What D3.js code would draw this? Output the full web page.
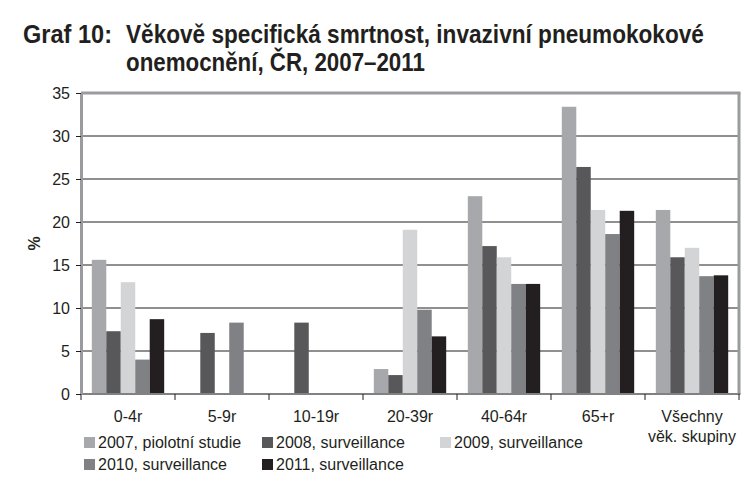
<!DOCTYPE html>
<html>
<head>
<meta charset="utf-8">
<script src="https://cdn.jsdelivr.net/npm/d3@7"></script>
<style>
  body { margin: 0; background: #fff; }
  text { font-family: "Liberation Sans", Arial, sans-serif; fill: #231f20; }
  .title { font-family: "Liberation Sans Narrow", "Liberation Sans", Arial, sans-serif; font-weight: bold; font-size: 26px; }
</style>
</head>
<body>
<div id="chart"></div>
<script>
// data
var categories = ["0-4r", "5-9r", "10-19r", "20-39r", "40-64r", "65+r", "Všechny"];
var categoryLabels = [["0-4r"], ["5-9r"], ["10-19r"], ["20-39r"], ["40-64r"], ["65+r"], ["Všechny", "věk. skupiny"]];
var seriesNames = ["2007, piolotní studie", "2008, surveillance", "2009, surveillance", "2010, surveillance", "2011, surveillance"];
var seriesColors = ["#a7a8ab", "#58585a", "#d3d4d5", "#808184", "#231f20"];
var values2007 = [15.6, 0, 0, 2.9, 23.0, 33.4, 21.4];
var values2008 = [7.3, 7.1, 8.3, 2.2, 17.2, 26.4, 15.9];
var values2009 = [13.0, 0, 0, 19.1, 15.9, 21.4, 17.0];
var values2010 = [4.0, 8.3, 0, 9.8, 12.8, 18.6, 13.7];
var values2011 = [8.7, 0, 0, 6.7, 12.8, 21.3, 13.8];
var yTicks = [0, 5, 10, 15, 20, 25, 30, 35];

var allValues = [values2007, values2008, values2009, values2010, values2011];

var width = 752, height = 496;
var plot = { left: 81, right: 739, top: 93, bottom: 394 };

var svg = d3.select('#chart').append('svg')
	.attr('width', width)
	.attr('height', height);

// title is a condensed bold face in the original: scale it horizontally to fit
function titleLine(str, x, yPos, targetWidth) {
	var t = svg.append('text').attr('class', 'title').text(str);
	var natural = t.node().getComputedTextLength();
	var sx = targetWidth / natural;
	t.attr('transform', 'translate(' + x + ',' + yPos + ') scale(' + sx + ',1)');
}
titleLine('Graf 10:', 23, 43, 89);
titleLine('Věkově specifická smrtnost, invazivní pneumokokové', 126, 43, 578);
titleLine('onemocnění, ČR, 2007–2011', 126, 71, 299);

var x0 = d3.scaleBand()
	.domain(categories)
	.range([plot.left, plot.right])
	.paddingInner(0.23)
	.paddingOuter(0.115);

var x1 = d3.scaleBand()
	.domain(d3.range(seriesNames.length))
	.range([0, x0.bandwidth()]);

var y = d3.scaleLinear()
	.domain([0, 35])
	.range([plot.bottom, plot.top]);

// gridlines
svg.append('g').selectAll('line')
	.data(yTicks.filter(function(d) { return d > 0 && d < 35; }))
	.enter().append('line')
	.attr('x1', plot.left).attr('x2', plot.right)
	.attr('y1', function(d) { return y(d); })
	.attr('y2', function(d) { return y(d); })
	.attr('stroke', '#231f20').attr('stroke-width', 1);

// bars
var groups = svg.append('g').selectAll('g')
	.data(categories)
	.enter().append('g')
	.attr('transform', function(d) { return 'translate(' + x0(d) + ',0)'; });

groups.selectAll('rect')
	.data(function(d, i) { return allValues.map(function(s, k) { return { k: k, v: s[i] }; }); })
	.enter().append('rect')
	.filter(function(d) { return d.v > 0; })
	.attr('x', function(d) { return x1(d.k); })
	.attr('width', x1.bandwidth())
	.attr('y', function(d) { return y(d.v); })
	.attr('height', function(d) { return y(0) - y(d.v); })
	.attr('fill', function(d) { return seriesColors[d.k]; });

// frame: top and right in grey
svg.append('line')
	.attr('x1', plot.left).attr('x2', plot.right + 1.5)
	.attr('y1', plot.top).attr('y2', plot.top)
	.attr('stroke', '#9a9b9e').attr('stroke-width', 3);
svg.append('line')
	.attr('x1', plot.right).attr('x2', plot.right)
	.attr('y1', plot.top).attr('y2', plot.bottom)
	.attr('stroke', '#9a9b9e').attr('stroke-width', 3);

// x axis line with ticks at category boundaries
var step = x0.step();
var boundaries = d3.range(categories.length + 1).map(function(i) { return plot.left + i * step; });
svg.append('line')
	.attr('x1', plot.left).attr('x2', plot.right + 1.5)
	.attr('y1', plot.bottom).attr('y2', plot.bottom)
	.attr('stroke', '#808184').attr('stroke-width', 2);
svg.append('g').selectAll('line')
	.data(boundaries)
	.enter().append('line')
	.attr('x1', function(d) { return d; }).attr('x2', function(d) { return d; })
	.attr('y1', plot.bottom).attr('y2', plot.bottom + 6)
	.attr('stroke', '#231f20').attr('stroke-width', 1);

// y axis
var yAxis = svg.append('g')
	.attr('transform', 'translate(' + plot.left + ',0)')
	.call(d3.axisLeft(y).tickValues(yTicks).tickSize(5).tickSizeOuter(0));
yAxis.select('.domain').attr('stroke', '#9a9b9e').attr('stroke-width', 3);
yAxis.selectAll('.tick line').attr('stroke', '#231f20');
yAxis.selectAll('.tick text')
	.attr('x', -11)
	.style('font-size', '16px')
	.style('font-family', '"Liberation Sans", Arial, sans-serif')
	.attr('fill', '#231f20');

// category labels
var labels = svg.append('g').selectAll('text')
	.data(categories)
	.enter().append('text')
	.attr('text-anchor', 'middle')
	.style('font-size', '16px')
	.attr('x', function(d) { return x0(d) + x0.bandwidth() / 2; })
	.attr('y', 422);
labels.selectAll('tspan')
	.data(function(d, i) { return categoryLabels[i]; })
	.enter().append('tspan')
	.attr('x', function() { return d3.select(this.parentNode).attr('x'); })
	.attr('dy', function(d, i) { return i === 0 ? 0 : 20; })
	.text(function(d) { return d; });

// y axis title
svg.append('text')
	.attr('transform', 'translate(40,' + ((plot.top + plot.bottom) / 2) + ') rotate(-90)')
	.attr('text-anchor', 'middle')
	.style('font-size', '16px')
	.style('font-weight', 'bold')
	.text('%');

// legend
var legendCols = [84, 262, 440];
var legendRows = [448, 470];
var legend = svg.append('g').selectAll('g')
	.data(seriesNames)
	.enter().append('g')
	.attr('transform', function(d, i) {
		return 'translate(' + legendCols[i % 3] + ',' + legendRows[Math.floor(i / 3)] + ')';
	});
legend.append('rect')
	.attr('x', 0).attr('y', -11)
	.attr('width', 11).attr('height', 11)
	.attr('fill', function(d, i) { return seriesColors[i]; });
legend.append('text')
	.attr('x', 14).attr('y', 0)
	.style('font-size', '16px')
	.text(function(d) { return d; });
</script>
</body>
</html>
